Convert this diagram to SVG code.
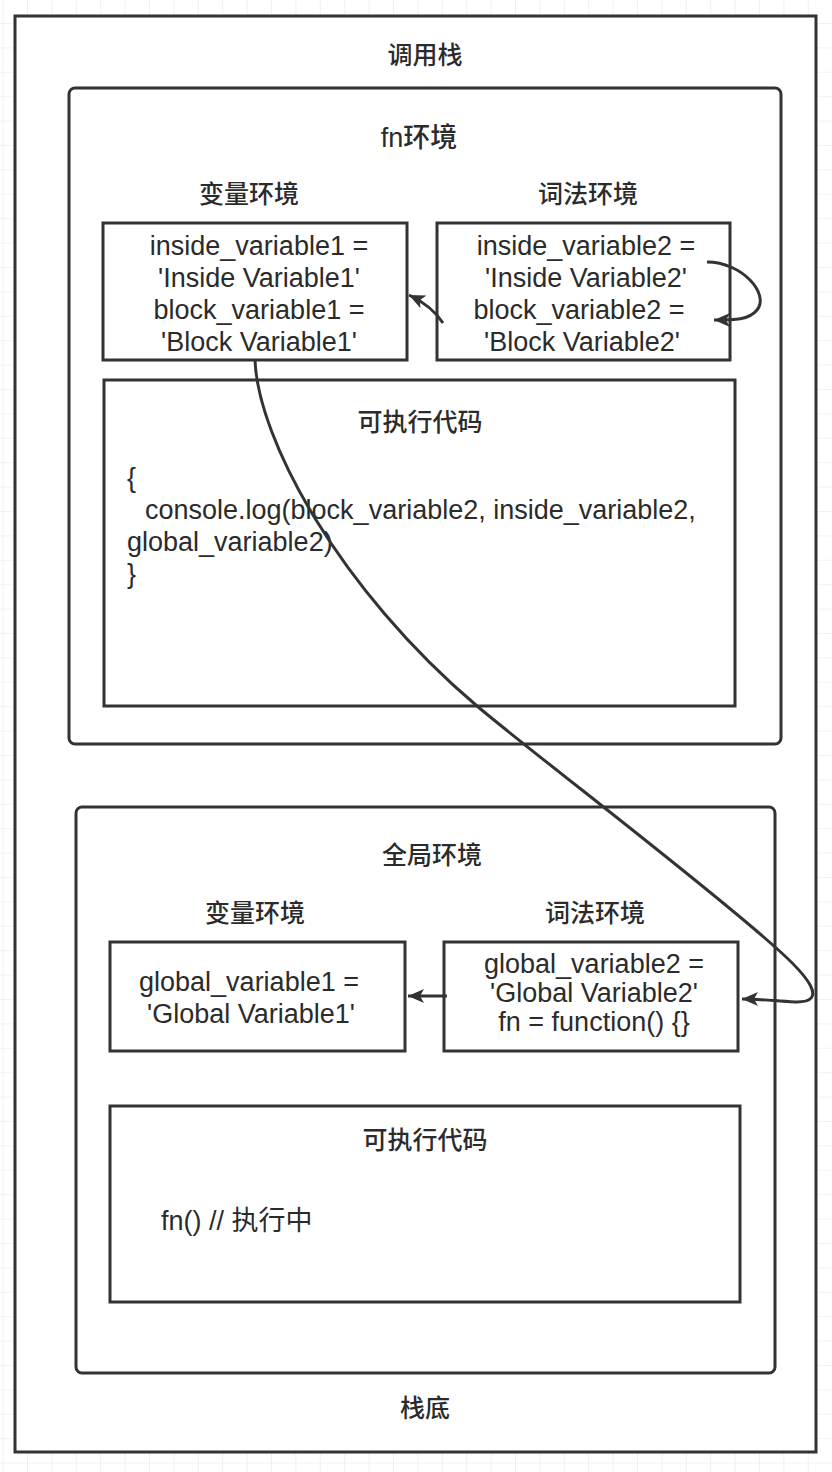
<svg xmlns="http://www.w3.org/2000/svg" width="832" height="1472" viewBox="0 0 832 1472">
  <defs>
    <pattern id="grid" x="2.6" y="-1.4" width="24.4" height="24.4" patternUnits="userSpaceOnUse">
      <path d="M0,0 L24.4,0 M0,0 L0,24.4" fill="none" stroke="#e6e6e6" stroke-width="1.2"/>
    </pattern>
    <marker id="arrow" markerUnits="userSpaceOnUse" markerWidth="18" markerHeight="16" refX="16" refY="7" orient="auto">
      <path d="M0,0 L16,7 L0,14 L4,7 Z" fill="#333"/>
    </marker>
    <style>
      .box { fill: #fff; stroke: #333; stroke-width: 3; }
      .t { font-family: "Liberation Sans", "Noto Sans CJK SC", sans-serif; font-size: 27px; fill: #2b2b2b; }
      .c { text-anchor: middle; }
      .cjk { font-family: "Noto Sans CJK SC", sans-serif; font-size: 25px; font-weight: 500; fill: #2b2b2b; text-anchor: middle; }
      .edge { fill: none; stroke: #333; stroke-width: 3; }
    </style>
  </defs>
  <rect x="0" y="0" width="832" height="1472" fill="#fff"/>
  <rect x="0" y="0" width="832" height="1472" fill="url(#grid)"/>

  <g id="call-stack">
    <rect class="box" x="15" y="16" width="801" height="1436"/>
    <text class="cjk" x="425" y="64">调用栈</text>
    <text class="cjk" x="425" y="1417">栈底</text>
  </g>

  <g id="fn-env">
    <rect class="box" x="69" y="88" width="712" height="656" rx="6" ry="6"/>
    <text class="t c" x="419" y="147" font-weight="500">fn环境</text>
    <text class="cjk" x="249" y="203">变量环境</text>
    <text class="cjk" x="588" y="203">词法环境</text>
  </g>

  <g id="fn-variable-env">
    <rect class="box" x="103" y="223" width="304" height="137"/>
    <text class="t c" x="259" y="255">inside_variable1 =</text>
    <text class="t c" x="259" y="287">'Inside Variable1'</text>
    <text class="t c" x="259" y="319">block_variable1 =</text>
    <text class="t c" x="259" y="351">'Block Variable1'</text>
  </g>

  <g id="fn-lexical-env">
    <rect class="box" x="437" y="223" width="293" height="137"/>
    <text class="t c" x="586" y="255">inside_variable2 =</text>
    <text class="t c" x="586" y="287">'Inside Variable2'</text>
    <text class="t c" x="579" y="319">block_variable2 =</text>
    <text class="t c" x="582" y="351">'Block Variable2'</text>
  </g>

  <g id="fn-code">
    <rect class="box" x="104" y="380" width="631" height="326"/>
    <text class="cjk" x="420" y="431">可执行代码</text>
    <text class="t" x="127" y="487">{</text>
    <text class="t" x="145" y="519">console.log(block_variable2, inside_variable2,</text>
    <text class="t" x="127" y="551">global_variable2)</text>
    <text class="t" x="127" y="583">}</text>
  </g>

  <g id="global-env">
    <rect class="box" x="76" y="807" width="699" height="566" rx="6" ry="6"/>
    <text class="cjk" x="432" y="864">全局环境</text>
    <text class="cjk" x="255" y="922">变量环境</text>
    <text class="cjk" x="595" y="922">词法环境</text>
  </g>

  <g id="global-variable-env">
    <rect class="box" x="110" y="942" width="295" height="109"/>
    <text class="t c" x="249" y="991">global_variable1 =</text>
    <text class="t c" x="251" y="1023">'Global Variable1'</text>
  </g>

  <g id="global-lexical-env">
    <rect class="box" x="444" y="942" width="294" height="109"/>
    <text class="t c" x="594" y="973">global_variable2 =</text>
    <text class="t c" x="594" y="1002">'Global Variable2'</text>
    <text class="t c" x="594" y="1031">fn = function() {}</text>
  </g>

  <g id="global-code">
    <rect class="box" x="110" y="1106" width="630" height="196"/>
    <text class="cjk" x="425" y="1149">可执行代码</text>
    <text class="t" x="161" y="1230">fn() // 执行中</text>
  </g>

  <g id="connectors">
    <path class="edge" d="M443,323 Q432,306 409,295" marker-end="url(#arrow)"/>
    <path class="edge" d="M707,262 C742,262 770,294 757,310 C749,320 735,320 714,320" marker-end="url(#arrow)"/>
    <path class="edge" d="M255,360 C258,440 340,590 477,706 C530,751 700,880 775,947 C808,976 830,1003 795,1002 C775,1001 760,999 742,999" marker-end="url(#arrow)"/>
    <path class="edge" d="M447,996 L408,996" marker-end="url(#arrow)"/>
  </g>
</svg>
